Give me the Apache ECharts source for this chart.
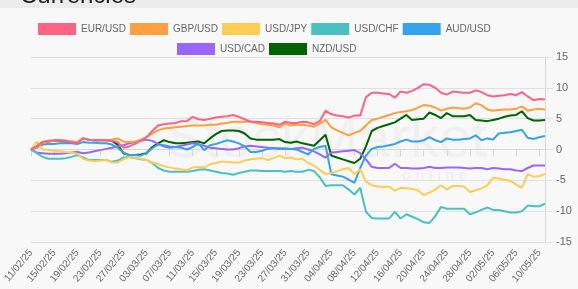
<!DOCTYPE html>
<html>
<head>
<meta charset="utf-8">
<script src="https://cdn.jsdelivr.net/npm/echarts@6/dist/echarts.min.js"></script>
<style>
  html, body { margin: 0; padding: 0; background: #f8f8f8; }
  #chartContainer { width: 578px; height: 289px; }
</style>
</head>
<body>
<div id="chartContainer"></div>
<script>
// 日付ラベル
const dates = [
    '11/02/25','12/02/25','13/02/25','14/02/25','15/02/25','16/02/25','17/02/25','18/02/25','19/02/25','20/02/25',
    '21/02/25','22/02/25','23/02/25','24/02/25','25/02/25','26/02/25','27/02/25','28/02/25',
    '01/03/25','02/03/25','03/03/25','04/03/25','05/03/25','06/03/25','07/03/25','08/03/25','09/03/25','10/03/25',
    '11/03/25','12/03/25','13/03/25','14/03/25','15/03/25','16/03/25','17/03/25','18/03/25','19/03/25','20/03/25',
    '21/03/25','22/03/25','23/03/25','24/03/25','25/03/25','26/03/25','27/03/25','28/03/25','29/03/25','30/03/25','31/03/25',
    '01/04/25','02/04/25','03/04/25','04/04/25','05/04/25','06/04/25','07/04/25','08/04/25','09/04/25','10/04/25',
    '11/04/25','12/04/25','13/04/25','14/04/25','15/04/25','16/04/25','17/04/25','18/04/25','19/04/25','20/04/25',
    '21/04/25','22/04/25','23/04/25','24/04/25','25/04/25','26/04/25','27/04/25','28/04/25','29/04/25','30/04/25',
    '01/05/25','02/05/25','03/05/25','04/05/25','05/05/25','06/05/25','07/05/25','08/05/25','09/05/25','10/05/25','11/05/25'
];

const seriesNames = ['EUR/USD', 'GBP/USD', 'USD/JPY', 'USD/CHF', 'AUD/USD', 'USD/CAD', 'NZD/USD'];
const seriesColors = ['#ff6384', '#ff9f40', '#ffcd56', '#4bc0c0', '#36a2eb', '#9966ff', '#006400'];

// 変化率 (%)
const eurUsd = [
    0, 0.5, 1.2, 1.4, 1.5, 1.5, 1.4, 1.2, 1.0, 1.8, 1.6, 1.5, 1.5, 1.5, 1.4, 1.2, 0.3, 0.5, 0.9, 1.4,
    2.0, 3.0, 3.9, 4.1, 4.2, 4.3, 4.6, 4.6, 5.3, 4.9, 4.8, 5.0, 5.2, 5.3, 5.4, 5.6, 5.3, 4.9, 4.5, 4.5,
    4.4, 4.3, 4.2, 4.0, 4.5, 4.3, 4.3, 4.5, 4.4, 4.1, 4.6, 6.3, 5.7, 5.5, 5.4, 5.2, 5.5, 5.5, 8.5, 9.2,
    9.2, 9.1, 9.0, 8.4, 9.4, 9.2, 9.5, 10.0, 10.6, 10.5, 10.0, 9.2, 8.9, 9.4, 9.3, 9.2, 9.2, 9.6, 9.3, 8.8,
    8.6, 8.7, 8.8, 9.0, 8.8, 9.3, 8.6, 8.0, 8.2, 8.1
];
const gbpUsd = [
    0, 0.4, 1.1, 1.3, 1.4, 1.5, 1.4, 1.3, 1.2, 1.8, 1.6, 1.5, 1.5, 1.5, 1.6, 1.8, 1.3, 1.2, 1.3, 1.6,
    2.0, 2.6, 3.1, 3.4, 3.5, 3.6, 3.7, 3.8, 3.9, 3.9, 3.9, 4.0, 4.0, 4.2, 4.3, 4.5, 4.5, 4.5, 4.5, 4.3,
    4.1, 4.0, 3.9, 3.6, 4.2, 3.9, 4.0, 4.0, 3.9, 3.7, 4.2, 4.8, 3.6, 3.1, 2.7, 2.3, 2.7, 3.0, 3.9, 4.8,
    5.0, 5.3, 5.6, 5.9, 6.1, 6.2, 6.4, 6.8, 7.2, 7.1, 6.8, 6.3, 6.6, 6.8, 6.7, 6.6, 6.8, 7.5, 7.2, 6.5,
    6.3, 6.4, 6.5, 6.5, 6.6, 7.0, 6.3, 6.5, 6.6, 6.5
];
const usdJpy = [
    0, 1.3, 0, -0.1, -0.2, -0.3, -0.4, -0.5, -0.7, -1.5, -1.8, -1.9, -1.8, -1.7, -2.1, -2.1, -1.6, -1.2, -1.3, -1.5,
    -1.7, -2.1, -2.4, -2.7, -2.9, -3.1, -3.2, -3.4, -2.9, -2.8, -2.9, -2.4, -2.2, -2.0, -2.0, -2.1, -2.1, -1.8, -1.6, -1.5,
    -1.4, -1.7, -1.4, -1.0, -1.4, -1.3, -1.6, -1.5, -2.2, -2.6, -3.3, -4.0, -3.8, -3.5, -3.2, -3.0, -4.0, -3.2, -5.2, -5.8,
    -6.0, -6.1, -6.0, -6.7, -6.2, -6.3, -6.4, -6.6, -7.4, -7.0, -6.5, -5.8, -6.5, -5.9, -5.9, -6.0, -6.9, -6.6, -6.3, -5.8,
    -4.6, -4.7, -4.9, -5.1, -5.7, -6.2, -4.0, -4.4, -4.3, -4.0
];
const usdChf = [
    0, -0.6, -1.2, -1.5, -1.5, -1.5, -1.4, -1.2, -0.9, -1.3, -1.7, -1.7, -1.7, -1.7, -2.0, -1.8, -1.3, -1.2, -1.4, -1.6,
    -1.7, -2.2, -3.0, -3.4, -3.6, -3.6, -3.6, -3.6, -3.5, -3.3, -3.2, -3.4, -3.6, -3.8, -3.9, -4.1, -3.8, -3.6, -3.4, -3.4,
    -3.5, -3.5, -3.5, -3.5, -3.6, -3.5, -3.6, -3.6, -3.3, -3.5, -4.5, -5.9, -5.8, -5.8, -5.8, -6.5, -7.3, -6.2, -10.1, -11.1,
    -11.2, -11.2, -11.2, -10.1, -11.2, -10.5, -10.9, -11.3, -11.8, -11.9, -10.8, -9.3, -9.6, -9.6, -9.6, -9.6, -10.5, -10.2, -9.8, -9.4,
    -9.8, -9.8, -10.0, -10.2, -10.2, -10.0, -9.1, -9.2, -9.2, -8.8
];
const audUsd = [
    0, 0.3, 0.8, 0.9, 0.9, 1.0, 1.0, 1.0, 0.9, 1.2, 1.1, 1.1, 1.0, 1.0, 0.8, 0.3, -0.5, -0.9, -0.9, -1.0,
    -0.6, 0.2, 0.8, 0.7, 0.5, 0.4, 0.3, 0, 0.4, 1.0, -0.1, 0.7, 0.9, 1.2, 1.5, 1.3, 1.0, 0.5, -0.4, -0.4,
    -0.2, 0.1, 0.2, 0.2, 0.2, 0.1, 0.0, -0.4, -0.8, 0.1, 0.4, 0.6, -4.0, -4.2, -4.4, -4.9, -5.4, -3.0, -1.0, 0.1,
    0.4, 0.5, 0.7, 0.9, 1.3, 1.6, 1.3, 1.3, 1.5, 2.0, 1.5, 1.2, 1.8, 1.6, 1.6, 1.7, 1.8, 2.3, 1.5, 1.8,
    1.6, 2.6, 2.7, 2.8, 3.0, 3.2, 1.9, 1.7, 2.0, 2.2
];
const usdCad = [
    0, -0.5, -0.6, -0.7, -0.7, -0.7, -0.6, -0.5, -0.4, -0.6, -0.5, -0.3, -0.1, 0.1, 0.3, 0.5, 0.7, 1.0, 1.2, 1.4,
    1.6, 1.4, 0.9, 0.5, 0.3, 0.4, 0.6, 0.8, 1.0, 0.8, 0.6, 0.3, 0.2, 0.1, 0.0, 0.0, 0.2, 0.5, 0.6, 0.5,
    0.4, 0.3, 0.2, 0.1, 0.1, 0.1, 0.2, 0.3, 0.0, -0.3, -0.8, -1.3, -0.5, -0.4, -0.3, -0.2, -0.1, -0.6, -1.6, -2.8,
    -3.0, -3.0, -3.0, -2.3, -3.0, -3.0, -3.1, -3.1, -3.0, -2.8, -3.0, -3.0, -2.9, -2.9, -2.9, -3.0, -3.1, -3.0, -3.0, -3.2,
    -3.0, -3.1, -3.2, -3.2, -3.4, -3.5, -3.0, -2.6, -2.6, -2.6
];
const nzdUsd = [
    0, 0.5, 1.2, 1.3, 1.4, 1.4, 1.3, 1.2, 1.1, 1.8, 1.6, 1.5, 1.5, 1.5, 1.4, 0.8, -0.6, -0.9, -0.9, -0.8,
    -0.6, 0.4, 1.0, 1.5, 1.2, 1.0, 1.0, 1.1, 1.2, 1.3, 1.0, 1.8, 2.5, 3.0, 3.1, 3.1, 3.0, 2.6, 1.8, 1.6,
    1.6, 1.6, 1.6, 1.7, 1.2, 1.1, 1.3, 1.0, 0.8, 0.6, 1.5, 2.4, -1.0, -1.3, -1.6, -1.9, -2.2, -1.5, 0.5, 3.0,
    3.5, 3.8, 4.1, 4.4, 5.0, 5.6, 4.8, 4.9, 5.0, 6.0, 5.6, 5.1, 5.9, 5.4, 5.4, 5.4, 5.6, 4.8, 4.7, 4.6,
    4.8, 5.0, 5.3, 5.5, 5.6, 6.2, 5.1, 4.7, 4.7, 4.8
];
const seriesValues = [eurUsd, gbpUsd, usdJpy, usdChf, audUsd, usdCad, nzdUsd];

const yTicks = [-15, -10, -5, 0, 5, 10, 15];

const chart = echarts.init(document.getElementById('chartContainer'));

const option = {
    animation: false,
    backgroundColor: '#f8f8f8',
    graphic: [
        // 上部のヘッダー帯とタイトル (上が切れている)
        {
            type: 'rect',
            shape: { x: 0, y: 0, width: 578, height: 8 },
            style: { fill: '#ececec' },
            z: 0
        },
        {
            type: 'text',
            left: 20,
            top: -16,
            style: { text: 'Currencies', font: '24px Arial, "Liberation Sans"', fill: '#222' },
            z: 1
        },
        // 透かし
        {
            type: 'text',
            left: 165,
            top: 112,
            style: { text: 'StockMarket', font: '58px Arial, "Liberation Sans"', fill: 'rgba(0,0,0,0.03)' },
            z: 0
        },
        {
            type: 'text',
            left: 402,
            top: 168,
            style: { text: 'o n l i n e', font: 'bold 15px Arial, "Liberation Sans"', fill: 'rgba(0,0,0,0.035)' },
            z: 0
        }
    ],
    legend: [
        {
            data: seriesNames.slice(0, 5),
            left: 33,
            top: 18,
            itemWidth: 38,
            itemHeight: 12,
            itemGap: 4,
            icon: 'rect',
            textStyle: { fontSize: 10, color: '#666', fontFamily: 'Arial, "Liberation Sans"' }
        },
        {
            data: seriesNames.slice(5),
            left: 172,
            top: 38,
            itemWidth: 38,
            itemHeight: 12,
            itemGap: 4,
            icon: 'rect',
            textStyle: { fontSize: 10, color: '#666', fontFamily: 'Arial, "Liberation Sans"' }
        }
    ],
    grid: {
        left: 31,
        right: 33,
        top: 57,
        bottom: 47
    },
    xAxis: {
        type: 'category',
        data: dates,
        boundaryGap: false,
        axisLine: { show: true, lineStyle: { color: '#d8d8d8' } },
        axisTick: { show: true, interval: 3, length: 7, lineStyle: { color: '#d8d8d8' } },
        axisLabel: {
            interval: 3,
            rotate: 50,
            margin: 9,
            fontSize: 10,
            color: '#666',
            fontFamily: 'Arial, "Liberation Sans"'
        },
        splitLine: { show: false }
    },
    yAxis: {
        type: 'value',
        position: 'right',
        min: yTicks[0],
        max: yTicks[yTicks.length - 1],
        interval: 5,
        axisLine: { show: true, lineStyle: { color: '#d8d8d8' } },
        axisTick: { show: true, length: 8, lineStyle: { color: '#e0e0e0' } },
        axisLabel: { margin: 11, fontSize: 11, color: '#666', fontFamily: 'Arial, "Liberation Sans"' },
        splitLine: { show: true, lineStyle: { color: '#e0e0e0' } }
    },
    series: seriesNames.map((name, i) => ({
        name: name,
        type: 'line',
        data: seriesValues[i],
        showSymbol: false,
        symbol: 'none',
        z: 10 - i,
        color: seriesColors[i],
        lineStyle: { width: 2, color: seriesColors[i] }
    }))
};

chart.setOption(option);
</script>
</body>
</html>
